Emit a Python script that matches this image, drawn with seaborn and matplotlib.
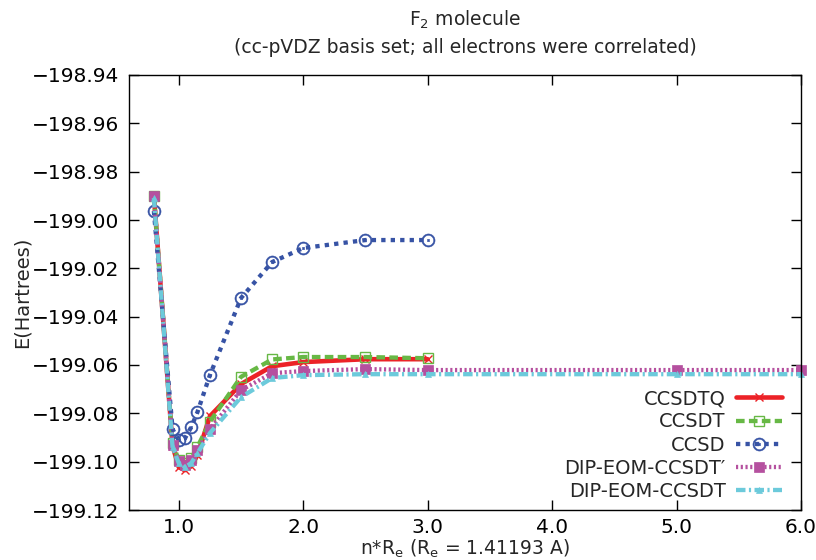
import numpy as np
import pandas as pd
import matplotlib
matplotlib.use("Agg")
import matplotlib.pyplot as plt
import seaborn as sns
from matplotlib.ticker import FuncFormatter

# ---- data ----
x_cc = [0.8, 0.95, 1.0, 1.05, 1.1, 1.15, 1.25, 1.5, 1.75, 2.0, 2.5, 3.0]
x_dip = [0.8, 0.95, 1.0, 1.05, 1.1, 1.15, 1.25, 1.5, 1.75, 2.0, 2.5, 3.0, 5.0, 6.0]

e_ccsdtq = [-198.9900, -199.0935, -199.1023, -199.1035, -199.1019, -199.0973,
            -199.0812, -199.0679, -199.0605, -199.0588, -199.0576, -199.0576]
e_ccsdt = [-198.9900, -199.0924, -199.0994, -199.1006, -199.0986, -199.0939,
           -199.0835, -199.0649, -199.0577, -199.0567, -199.0567, -199.0572]
e_ccsd = [-198.9963, -199.0866, -199.0911, -199.0903, -199.0857, -199.0795,
          -199.0642, -199.0323, -199.0174, -199.0116, -199.0083, -199.0083]
e_dip_prime = [-198.9900, -199.0932, -199.0998, -199.1015, -199.0994, -199.0953,
               -199.0866, -199.0704, -199.0634, -199.0625, -199.0617, -199.0621,
               -199.0621, -199.0621]
e_dip = [-198.9909, -199.0940, -199.1006, -199.1023, -199.1006, -199.0965,
         -199.0882, -199.0733, -199.0654, -199.0642, -199.0638, -199.0638,
         -199.0638, -199.0638]

labels = ["CCSDTQ", "CCSDT", "CCSD", "DIP-EOM-CCSDT\u2032", "DIP-EOM-CCSDT"]
xticks = [1.0, 2.0, 3.0, 4.0, 5.0, 6.0]
yticks = [-198.94, -198.96, -198.98, -199.00, -199.02, -199.04,
          -199.06, -199.08, -199.10, -199.12]

frames = []
for lab, xs, es in zip(labels, [x_cc, x_cc, x_cc, x_dip, x_dip],
                       [e_ccsdtq, e_ccsdt, e_ccsd, e_dip_prime, e_dip]):
    frames.append(pd.DataFrame({"x": xs, "E": es, "method": lab}))
df = pd.concat(frames, ignore_index=True)

# ---- style ----
sns.set_theme(style="ticks")
plt.rcParams["font.family"] = ["DejaVu Sans"]
plt.rcParams["axes.unicode_minus"] = True

styles = {
    "CCSDTQ": dict(color="#ec2227", dashes=None, marker="x", ms=6,
                   mfc="#ec2227", mew=1.0, lw=3.3),
    "CCSDT": dict(color="#67b845", dashes=(2.0, 1.0), marker="s", ms=7,
                  mfc="none", mew=1.0, lw=3.1),
    "CCSD": dict(color="#3753a5", dashes=(1.0, 1.2), marker="$\\odot$", ms=9.5,
                 mfc="#3753a5", mew=0.3, lw=3.1),
    "DIP-EOM-CCSDT\u2032": dict(color="#b5509f", dashes=(0.5, 0.6), marker="s",
                                ms=6.5, mfc="#b5509f", mew=0.5, lw=3.1),
    "DIP-EOM-CCSDT": dict(color="#6ccadb", dashes=(2.2, 0.8, 0.5, 0.8),
                          marker="^", ms=5, mfc="#6ccadb", mew=0.5, lw=3.1),
}

fig = plt.figure(figsize=(8.16, 5.6), dpi=100)
ax = fig.add_axes([129 / 816, 1 - 510 / 560, 672 / 816, 435 / 560])

for lab in labels:
    st = styles[lab]
    sub = df[df["method"] == lab]
    sns.lineplot(data=sub, x="x", y="E", ax=ax, label=lab, color=st["color"],
                 lw=st["lw"], marker=st["marker"], markersize=st["ms"],
                 markerfacecolor=st["mfc"], markeredgecolor=st["color"],
                 markeredgewidth=st["mew"], errorbar=None, clip_on=False)
    line = ax.get_lines()[-1]
    if st["dashes"] is not None:
        line.set_dashes(st["dashes"])

ax.set_xlim(0.6, 6.0)
ax.set_ylim(-199.12, -198.94)
ax.set_xticks(xticks)
ax.set_yticks(yticks)
ax.xaxis.set_major_formatter(FuncFormatter(lambda v, p: f"{v:.1f}"))
ax.yaxis.set_major_formatter(FuncFormatter(lambda v, p: f"{v:.2f}".replace("-", "\u2212")))
ax.tick_params(direction="in", length=7, width=1, colors="black",
               labelsize=14.5, top=True, right=True)
ax.tick_params(axis="x", pad=6)
ax.tick_params(axis="y", pad=7)
for sp in ax.spines.values():
    sp.set_visible(True)
    sp.set_color("black")
    sp.set_linewidth(1.0)

ax.set_xlabel("n*R$_\\mathregular{e}$ (R$_\\mathregular{e}$ = 1.41193 A)", fontsize=13.5, labelpad=0)
ax.set_ylabel("E(Hartrees)", fontsize=14, labelpad=0)
ax.set_title("F$_\\mathregular{2}$ molecule\n(cc-pVDZ basis set; all electrons were correlated)",
             fontsize=13.5, pad=16, linespacing=1.45)

leg = ax.legend(loc="lower right", bbox_to_anchor=(0.972, 0.02), frameon=False,
                fontsize=14, markerfirst=False, handlelength=2.4,
                handletextpad=0.5, labelspacing=0.22, borderpad=0, borderaxespad=0,
                numpoints=1)
for col in leg._legend_box.get_children()[1].get_children():
    col.align = "right"

fig.savefig("out.png", dpi=100, facecolor="white")
